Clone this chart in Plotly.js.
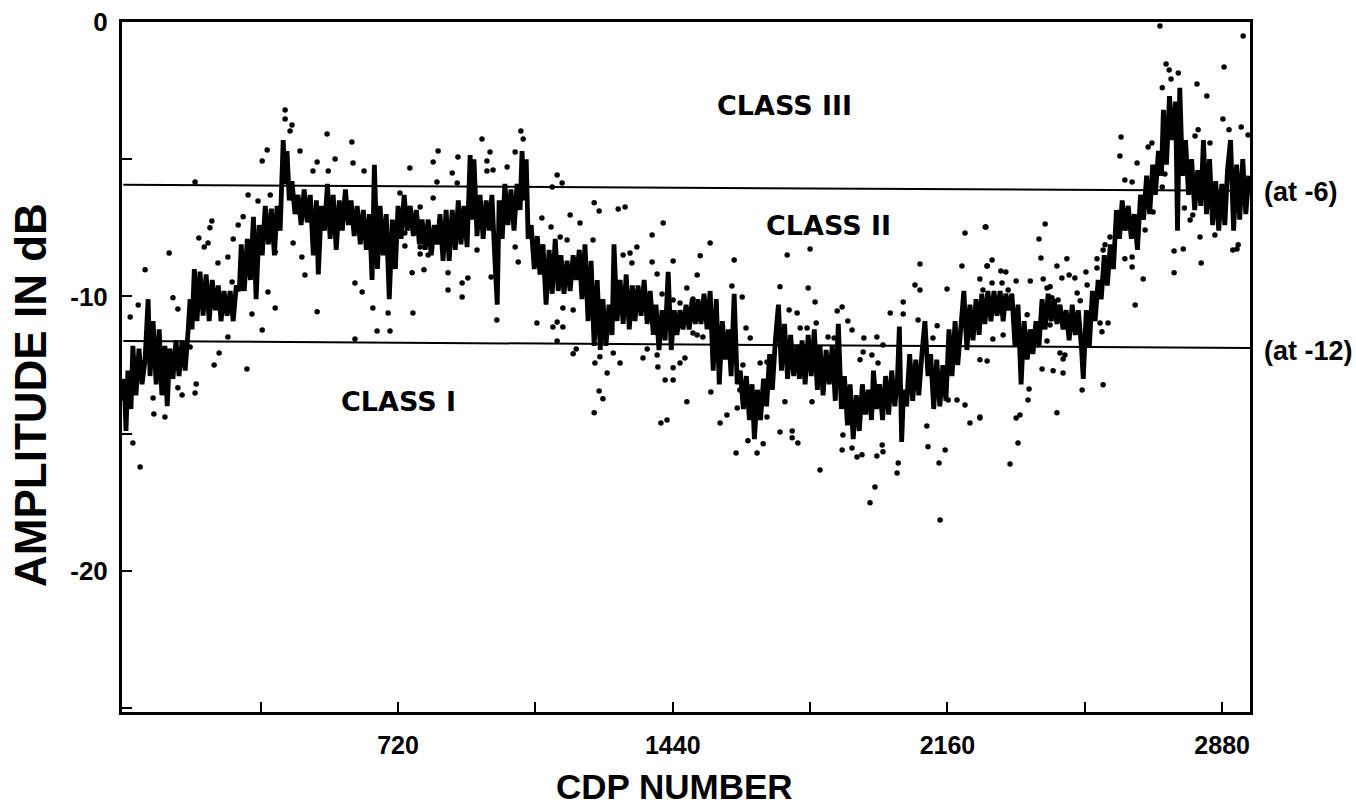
<!DOCTYPE html>
<html>
<head>
<meta charset="utf-8">
<script src="https://cdn.plot.ly/plotly-3.0.1.min.js"></script>
<style>html,body{margin:0;padding:0;background:#fff;}#chart{width:1356px;height:810px;}</style>
</head>
<body>
<div id="chart"></div>
<script>
// Mean amplitude trace (CDP number vs amplitude in dB)
const traceX = [0,2,7,12,20,25,33,41,49,57,65,70,78,86,94,101,109,115,122,130,138,146,154,162,170,175,180,186,193,201,
209,217,225,233,241,249,256,264,272,280,288,296,304,309,317,325,333,341,348,356,364,372,380,388,396,403,411,419,424,429,435,
442,450,458,466,474,482,490,498,506,511,519,527,535,542,550,558,566,574,582,590,597,605,613,621,629,637,645,652,658,666,673,681,689,697,705,713,720,
728,736,744,752,760,768,776,783,791,799,807,815,823,830,838,846,854,862,870,878,885,893,901,909,914,919,927,935,943,951,959,966,974,980,985,
993,1000,1008,1016,1024,1032,1040,1045,1050,1056,1061,1069,1077,1085,1092,1100,1108,1116,1124,1132,1140,1147,1155,1163,1171,1179,1187,1195,1202,1210,1218,1226,1234,1242,1250,
1257,1265,1273,1281,1286,1294,1302,1310,1318,1326,1334,1341,1349,1357,1365,1373,1381,1389,1396,1404,1412,1420,1428,1436,1444,1451,1459,1467,1475,1483,1491,1499,1506,
1514,1522,1530,1538,1546,1554,1562,1570,1578,1586,1593,1601,1609,1617,1625,1633,1641,1648,1654,1662,1670,1678,1686,1694,1701,1709,1717,1725,1733,1741,1749,1757,1765,1772,
1779,1787,1795,1803,1811,1819,1826,1834,1842,1850,1858,1866,1874,1882,1890,1898,1905,1913,1921,1929,1937,1945,1953,1961,1966,1974,1982,1990,1998,2006,2014,2022,2029,2034,2040,2045,
2053,2061,2069,2077,2085,2093,2101,2109,2116,2124,2132,2140,2148,2156,2164,2172,2180,2187,2195,2203,2211,2219,2227,2235,2243,2250,2258,2266,2274,2282,2290,2298,
2306,2313,2321,2329,2337,2345,2353,2361,2369,2377,2384,2392,2400,2408,2416,2424,2432,2440,2447,2455,2463,2471,2479,2487,2495,2503,2511,2516,2524,2532,2540,2547,2555,2563,
2571,2579,2587,2595,2603,2611,2618,2626,2634,2642,2650,2658,2666,2674,2682,2690,2698,2705,2713,2721,2726,2734,2742,2750,2758,2763,2769,2776,2784,2792,2800,2808,2816,2824,2831,2839,2847,2855,2863,2871,2879,2887,2894,2902,2910,2918,2926,2934,2942,2950];
const traceY = [-13.8,-13.0,-14.9,-12.7,-14.1,-11.8,-13.6,-11.9,-13.2,-12.3,-10.1,-12.9,-10.9,-13.2,-11.2,-13.6,-11.8,-14.0,-11.9,-13.0,-11.6,-12.9,-11.6,-12.7,-11.2,-10.1,-11.2,-9.0,-10.9,-9.1,
-10.7,-9.2,-10.9,-9.4,-10.5,-9.6,-10.9,-9.8,-10.7,-9.8,-10.9,-9.6,-9.8,-8.1,-9.8,-7.9,-9.4,-7.1,-10.1,-7.4,-8.5,-6.7,-8.1,-6.8,-8.5,-6.7,-7.6,-4.3,-5.9,-4.7,-6.5,
-5.8,-7.0,-6.3,-7.4,-6.1,-7.3,-6.3,-8.5,-6.5,-9.2,-6.7,-7.6,-5.9,-7.9,-6.3,-8.3,-6.5,-7.6,-6.1,-7.4,-6.5,-7.8,-6.7,-8.1,-6.85,-8.3,-7.0,-9.4,-5.2,-9.0,-6.7,-8.5,-7.0,-10.1,-7.2,-9.0,-6.7,
-7.9,-6.3,-7.6,-6.7,-7.8,-6.85,-8.1,-7.2,-8.3,-7.2,-8.5,-7.4,-8.1,-7.0,-8.7,-6.85,-8.7,-6.85,-8.3,-6.5,-8.1,-6.7,-8.2,-4.85,-7.2,-5.0,-7.8,-6.3,-7.9,-6.5,-7.6,-6.3,-8.7,-10.3,-6.5,
-7.9,-5.9,-7.4,-6.1,-7.6,-5.9,-6.85,-4.7,-6.5,-5.0,-7.9,-7.4,-9.0,-7.8,-9.2,-8.1,-10.3,-8.3,-9.9,-7.9,-9.8,-8.5,-9.9,-8.7,-9.8,-8.5,-9.4,-8.3,-10.1,-8.1,-10.9,-8.7,-11.8,-9.4,-11.95,
-10.1,-11.8,-10.3,-11.4,-8.1,-10.9,-9.4,-11.0,-9.2,-11.2,-9.6,-10.9,-9.6,-10.7,-9.4,-11.0,-9.8,-11.4,-10.3,-11.95,-10.5,-11.6,-9.1,-11.95,-10.5,-11.4,-10.5,-11.2,-10.3,-11.2,-10.1,-11.0,-10.1,
-11.0,-9.9,-11.2,-9.8,-12.7,-10.1,-13.2,-10.9,-12.3,-11.2,-12.9,-9.9,-13.2,-12.7,-14.1,-12.9,-14.5,-13.2,-15.2,-13.4,-14.5,-13.0,-14.0,-12.1,-13.4,-11.6,-10.3,-12.7,-11.0,-13.0,-11.4,-12.9,-11.8,-13.0,
-11.6,-13.2,-11.4,-12.9,-11.2,-13.4,-11.8,-13.6,-11.95,-13.2,-11.8,-13.8,-11.0,-14.1,-12.9,-14.7,-13.2,-15.2,-13.6,-14.9,-13.2,-14.3,-13.4,-14.5,-12.7,-14.1,-13.2,-14.5,-12.9,-14.3,-12.7,-14.0,-13.0,-11.1,-15.3,-13.4,
-14.0,-12.1,-13.8,-12.3,-13.6,-12.1,-10.9,-12.9,-12.1,-14.1,-12.3,-14.0,-12.5,-13.8,-11.2,-12.9,-10.9,-12.5,-11.0,-9.8,-11.95,-10.3,-11.6,-10.1,-11.4,-9.9,-11.0,-9.8,-10.9,-9.8,-10.7,-9.8,
-10.9,-9.9,-10.5,-9.9,-11.8,-10.3,-13.2,-10.9,-12.3,-11.2,-12.1,-10.9,-11.8,-10.1,-11.2,-9.9,-10.9,-10.1,-11.0,-10.3,-11.2,-10.5,-11.6,-10.3,-11.4,-10.5,-11.8,-13.0,-10.5,-11.8,-9.8,-10.9,-9.4,-10.1,
-8.5,-9.6,-8.1,-9.0,-6.85,-7.9,-6.5,-7.6,-6.7,-7.9,-7.0,-8.3,-6.3,-7.2,-5.6,-7.0,-5.2,-6.3,-4.7,-5.6,-3.2,-5.2,-2.7,-4.3,-2.9,-7.6,-2.4,-5.6,-4.3,-6.3,-5.0,-6.85,-5.4,-6.7,-4.3,-7.0,-5.0,-7.4,-5.8,-7.6,-5.9,-7.4,-5.4,-4.3,-7.6,-5.2,-7.2,-5.0,-7.0,-5.6];

// Individual scattered amplitude samples
const dotX = [424,424,442,437,534,599,377,364,463,508,555,602,631,497,537,188,327,385,353,314,301,232,227,288,198,212,222,120,57,248,274,398,285,379,398,364,337,274,130,143,39,18,508,607,626,654,694,665,699,607,476,468,445,251,238,324,191,188,154,143,78,80,109,25,44,175,
1042,1048,940,825,961,1027,812,877,953,751,862,953,969,1006,822,875,1137,1150,1124,1234,1247,1297,1315,1171,1197,1121,1097,1145,1163,1231,1415,1386,1346,1328,1310,1386,1441,1399,1333,1477,1441,1459,1493,1412,812,725,778,738,738,778,799,778,757,788,851,851,888,903,888,759,964,979,1027,1035,927,1084,1126,1152,1179,1152,1137,1137,1187,1179,1236,1249,1268,1302,1373,1399,1401,1441,1459,1472,1420,1441,1477,1247,1257,1234,1409,1425,1362,1284,
1538,1512,1504,1601,1740,1800,2206,2259,2088,2198,2264,2245,2075,2088,2159,2253,1595,1622,1721,1795,1813,1871,1884,1899,1766,1745,2010,2044,2044,2133,2122,2083,1493,1519,1504,1632,1643,1774,1792,1816,1847,1863,1910,1941,1991,1975,1939,1962,1624,1669,1687,1978,1931,1616,1540,1734,1805,2083,2185,2206,2245,2219,2162,1609,1564,1582,1687,1721,1753,1753,1768,1637,1677,1661,1606,1884,1910,1886,1923,1936,1975,1989,1991,2031,2028,2109,2154,2138,2106,1826,1970,1957,2141,
2717,2717,2935,2733,2741,2746,2765,2885,2814,2840,2723,2882,2817,2898,2930,2848,2809,2948,2615,2612,2696,2686,2657,2625,2644,2730,2723,2781,2803,2796,2699,2678,2822,2861,2754,2778,2922,2919,2908,2825,2754,2673,2652,2644,2625,2644,2573,2586,2568,2552,2552,2523,2416,2400,2405,2473,2447,2460,2479,2494,2500,2526,2508,2261,2264,2277,2277,2300,2313,2303,2319,2340,2377,2411,2421,2429,2434,2450,2369,2382,2358,2429,2421,2560,2581,2565,2279,2306,2245,2264,2408,2437,2463,2455,2468,2463,2513,2568,2374,2371,2340,2350,2447,2345,2324,2245];
const dotY = [-3.21,-3.53,-3.75,-3.97,-4.08,-4.37,-4.66,-5.06,-4.70,-5.10,-4.99,-5.14,-5.43,-5.43,-5.43,-5.83,-6.30,-6.30,-6.52,-7.10,-7.40,-7.25,-7.50,-7.91,-7.87,-8.20,-8.05,-8.42,-9.03,-8.78,-8.56,-8.38,-9.47,-9.84,-10.42,-11.22,-10.64,-11.48,-10.05,-10.46,-10.31,-10.75,-10.56,-9.51,-9.84,-10.42,-10.60,-11.26,-11.26,-11.55,-9.22,-8.56,-8.05,-12.06,-12.50,-12.64,-13.19,-13.52,-13.59,-13.33,-13.70,-14.28,-14.39,-15.34,-16.21,-11.84,
-3.97,-4.26,-4.26,-4.70,-4.74,-4.74,-5.10,-4.92,-5.06,-5.32,-5.50,-5.43,-5.39,-5.28,-5.83,-5.87,-5.57,-5.87,-6.01,-6.59,-6.89,-6.81,-6.74,-7.03,-7.32,-7.47,-7.14,-7.83,-7.94,-7.94,-7.32,-7.76,-8.20,-8.42,-8.49,-8.74,-8.71,-9.18,-8.78,-9.69,-10.13,-10.24,-10.09,-9.91,-6.41,-6.23,-6.74,-7.69,-8.16,-8.20,-8.49,-8.45,-9.14,-9.03,-9.14,-9.76,-9.51,-9.33,-10.02,-10.60,-9.29,-10.86,-8.20,-8.74,-8.31,-10.97,-11.11,-11.11,-10.49,-10.42,-10.93,-11.62,-11.91,-12.09,-12.42,-12.20,-12.79,-12.42,-11.91,-12.13,-12.57,-12.60,-12.42,-12.24,-13.04,-13.04,-13.84,-13.44,-13.73,-14.24,-14.61,-14.50,-12.24,-12.06,
-8.05,-8.52,-9.22,-8.67,-8.49,-8.27,-7.69,-7.47,-8.82,-8.89,-8.89,-9.36,-9.58,-9.76,-9.73,-9.76,-9.62,-10.02,-9.65,-9.69,-10.20,-10.53,-10.38,-10.89,-10.60,-10.49,-10.60,-10.64,-10.20,-11.07,-11.51,-10.86,-11.33,-11.48,-11.40,-11.15,-11.51,-11.15,-11.15,-10.97,-11.48,-11.51,-11.22,-11.51,-11.77,-11.48,-12.02,-12.13,-12.50,-12.42,-12.39,-12.42,-12.31,-13.41,-13.48,-13.84,-13.84,-12.79,-13.77,-13.95,-14.43,-14.61,-13.77,-14.06,-14.61,-14.32,-14.39,-14.94,-14.90,-15.15,-15.34,-15.26,-15.37,-15.70,-15.70,-15.59,-15.52,-15.05,-15.85,-15.77,-15.81,-15.41,-15.66,-16.07,-16.43,-15.48,-15.59,-16.07,-14.72,-16.32,-16.94,-17.52,-18.14,
0.1,-0.15,-0.51,-1.53,-1.75,-2.08,-1.86,-1.64,-2.26,-2.70,-2.40,-3.53,-3.93,-3.93,-3.83,-4.41,-4.15,-4.12,-4.19,-4.88,-4.41,-4.55,-5.14,-5.76,-5.83,-5.54,-6.01,-6.78,-7.03,-7.21,-6.92,-7.58,-7.83,-7.76,-8.34,-8.27,-8.12,-8.27,-8.31,-8.78,-9.14,-9.36,-10.31,-8.56,-8.63,-8.93,-8.12,-7.83,-8.31,-8.63,-8.96,-9.11,-7.36,-7.91,-8.60,-8.63,-8.89,-9.33,-9.22,-9.33,-9.87,-9.58,-10.16,-7.47,-8.89,-8.67,-9.51,-9.07,-9.11,-9.51,-9.76,-9.44,-9.44,-9.36,-9.69,-9.65,-10.05,-10.13,-10.67,-11.29,-11.29,-11.04,-11.62,-10.97,-10.97,-11.29,-11.55,-11.40,-12.31,-12.35,-12.64,-12.71,-12.79,-12.06,-12.13,-12.28,-13.41,-13.22,-13.37,-13.77,-14.43,-14.32,-14.24,-15.34,-16.10,-14.39];

// Axis ticks
const xTickVals = [360,720,1080,1440,1800,2160,2520,2880];
const xTickText = ['','720','','1440','','2160','','2880'];
const yTickVals = [0,-5,-10,-15,-20,-25];
const yTickText = ['0','','-10','','-20',''];

// Axis titles
const xTitle = 'CDP NUMBER';
const yTitle = 'AMPLITUDE IN dB';

// Class boundaries (drawn slightly skewed as in the scan)
const boundaryLeftY = [-5.93,-11.62];
const boundaryRightY = [-6.15,-11.88];
const boundaryLabels = ['(at -6)','(at -12)'];
const boundaryLabelY = [-6.19,-12.0];

// Class region labels
const classText = ['CLASS III','CLASS II','CLASS I'];
const classX = [1734,1847,722];
const classY = [-3.06,-7.43,-13.84];

const xMin = -3.5, xMax = 2953;
const bold = {family:'Liberation Sans, Arial, sans-serif', color:'#000', weight:700};

const data = [
  {x: traceX, y: traceY, type:'scatter', mode:'lines',
   line:{color:'#000', width:4.8}, hoverinfo:'skip', showlegend:false},
  {x: dotX, y: dotY, type:'scatter', mode:'markers', cliponaxis:false,
   marker:{color:'#000', size:5.5, symbol:'circle'}, hoverinfo:'skip', showlegend:false}
];

const shapes = boundaryLeftY.map((v,i)=>({
  type:'line', xref:'x', yref:'y', x0:0, x1:xMax, y0:v, y1:boundaryRightY[i],
  line:{color:'#000', width:2}
}));

const annotations = [];
classText.forEach((t,i)=>annotations.push({
  text:t, x:classX[i], y:classY[i], xref:'x', yref:'y', showarrow:false,
  font:{family:'DejaVu Sans, sans-serif', size:27, color:'#000', weight:700}
}));
boundaryLabels.forEach((t,i)=>annotations.push({
  text:t, x:1.011, y:boundaryLabelY[i], xref:'paper', yref:'y', xanchor:'left', showarrow:false,
  font:Object.assign({size:27}, bold)
}));
// axis titles placed where the reference shows them
annotations.push({text:xTitle, xref:'paper', yref:'paper', x:0.4894, y:-0.108,
  xanchor:'center', yanchor:'middle', showarrow:false, borderpad:0, font:Object.assign({size:35}, bold)});
annotations.push({text:yTitle, xref:'paper', yref:'paper', x:-0.0816, y:0.4594, textangle:-90,
  xanchor:'center', yanchor:'middle', showarrow:false, font:Object.assign({size:44}, bold)});

const layout = {
  width:1356, height:810,
  margin:{l:122, r:106, t:22, b:98},
  paper_bgcolor:'#fff', plot_bgcolor:'#fff',
  showlegend:false,
  xaxis:{
    range:[xMin, xMax], showgrid:false, zeroline:false,
    showline:true, mirror:true, linecolor:'#000', linewidth:3,
    tickmode:'array', tickvals:xTickVals, ticktext:xTickText,
    ticks:'inside', ticklen:10, tickwidth:2, tickcolor:'#000',
    ticklabelstandoff:9,
    tickfont:Object.assign({size:25}, bold)
  },
  yaxis:{
    range:[-25.14, 0], showgrid:false, zeroline:false,
    showline:true, mirror:true, linecolor:'#000', linewidth:3,
    tickmode:'array', tickvals:yTickVals, ticktext:yTickText,
    ticks:'inside', ticklen:10, tickwidth:2, tickcolor:'#000',
    ticklabelstandoff:6,
    tickfont:Object.assign({size:26}, bold)
  },
  shapes:shapes,
  annotations:annotations
};

Plotly.newPlot('chart', data, layout, {displayModeBar:false, staticPlot:true});
</script>
</body>
</html>
